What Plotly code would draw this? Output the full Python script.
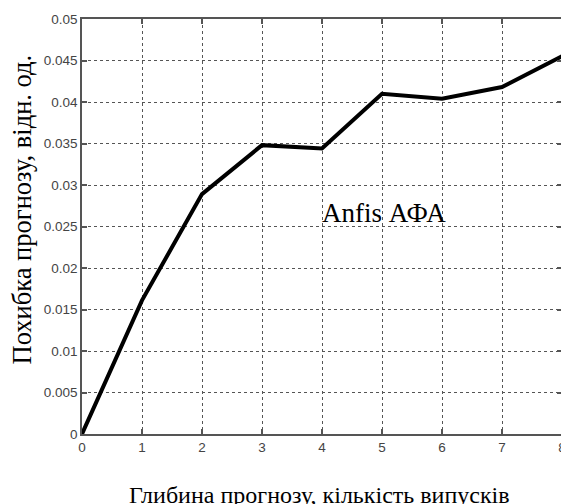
import plotly.graph_objects as go

depth = [0, 1, 2, 3, 4, 5, 6, 7, 8]
error = [0.0, 0.0161, 0.0289, 0.0348, 0.0344, 0.0410, 0.0404, 0.0418, 0.0455]
x_ticks = [0, 1, 2, 3, 4, 5, 6, 7, 8]
y_ticks = [0, 0.005, 0.01, 0.015, 0.02, 0.025, 0.03, 0.035, 0.04, 0.045, 0.05]
y_tick_labels = ["0", "0.005", "0.01", "0.015", "0.02", "0.025", "0.03", "0.035", "0.04", "0.045", "0.05"]
series_label = "Anfis АФА"
x_title = "Глибина прогнозу, кількість випусків"
y_title = "Похибка прогнозу, відн. од."

fig = go.Figure()
fig.add_trace(go.Scatter(x=depth, y=error, mode="lines",
                         line=dict(color="black", width=4), showlegend=False))

fig.add_annotation(x=5.03, y=0.02663, xref="x", yref="y", text=series_label,
                   showarrow=False, xanchor="center", yanchor="middle",
                   font=dict(family="Liberation Serif", size=27, color="black"))

axis_common = dict(showline=True, linecolor="#555", linewidth=1.5, mirror="ticks",
                   ticks="inside", ticklen=5, tickcolor="#555", tickwidth=1.5,
                   showgrid=True, gridcolor="#555", gridwidth=1.3, griddash="3px,3px",
                   zeroline=False, ticklabeloverflow="allow",
                   tickfont=dict(family="Liberation Sans", size=13.5, color="#444"))

fig.update_xaxes(range=[0, 8], tickvals=x_ticks, ticktext=[str(v) for v in x_ticks], **axis_common)
fig.update_yaxes(range=[0, 0.05], tickvals=y_ticks, ticktext=y_tick_labels, **axis_common)

fig.add_annotation(x=0.495, y=-0.147, xref="paper", yref="paper", text=x_title, showarrow=False,
                   xanchor="center", yanchor="middle",
                   font=dict(family="Liberation Serif", size=24, color="black"))
fig.add_annotation(x=-0.126, y=0.54, xref="paper", yref="paper", text=y_title, showarrow=False,
                   textangle=-90, xanchor="center", yanchor="middle",
                   font=dict(family="Liberation Serif", size=26.5, color="black"))

# page body has an 8px margin, so the figure is sized/offset to compensate
fig.update_layout(width=561, height=496, margin=dict(l=74, r=3, t=11, b=70),
                  plot_bgcolor="white", paper_bgcolor="white")

fig.write_html("out.html")
